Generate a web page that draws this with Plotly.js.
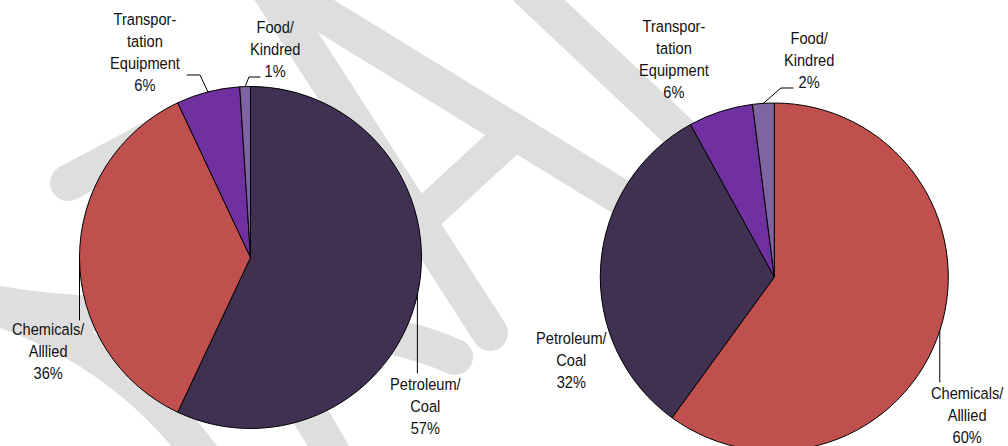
<!DOCTYPE html>
<html>
<head>
<meta charset="utf-8">
<script src="https://cdn.plot.ly/plotly-3.0.1.min.js"></script>
<style>
html, body { margin: 0; padding: 0; overflow: hidden; background: #fff; }
#chart { width: 1008px; height: 460px; }
.shapelayer path { stroke-linecap: round; stroke-linejoin: round; }
.annotation-text { transform-box: fill-box; transform-origin: center; transform: scaleX(0.86); }
</style>
</head>
<body>
<div id="chart"></div>
<script>
// ---------- data ----------
const categoriesLeft = ["Petroleum/Coal", "Chemicals/Alllied", "Transportation Equipment", "Food/Kindred"];
const valuesLeft = [57, 36, 6, 1];
const categoriesRight = ["Chemicals/Alllied", "Petroleum/Coal", "Transportation Equipment", "Food/Kindred"];
const valuesRight = [60, 32, 6, 2];
const labelLines = {
  "Petroleum/Coal": "Petroleum/<br>Coal",
  "Chemicals/Alllied": "Chemicals/<br>Alllied",
  "Transportation Equipment": "Transpor-<br>tation<br>Equipment",
  "Food/Kindred": "Food/<br>Kindred"
};
const categoryColors = {
  "Petroleum/Coal": "#403152",
  "Chemicals/Alllied": "#C0504D",
  "Transportation Equipment": "#7030A0",
  "Food/Kindred": "#8064A2"
};

// ---------- layout geometry (pixels) ----------
const W = 1008, H = 460;
const pies = [
  { cats: categoriesLeft, vals: valuesLeft, cx: 250.5, cy: 257.5, r: 171,
    labels: {
      "Petroleum/Coal": { x: 425, y: 406, leader: [[null, 373]] },
      "Chemicals/Alllied": { x: 48.5, y: 351, leader: [[null, 320]] },
      "Transportation Equipment": { x: 145, y: 52, leader: [[200, 75], [187, 75]] },
      "Food/Kindred": { x: 275, y: 49.5, leader: [[249, 77], [260, 77]] }
    } },
  { cats: categoriesRight, vals: valuesRight, cx: 774.3, cy: 277, r: 174,
    labels: {
      "Chemicals/Alllied": { x: 967.5, y: 415, leader: [[null, 382]] },
      "Petroleum/Coal": { x: 571.5, y: 359.5, leader: null },
      "Transportation Equipment": { x: 673.5, y: 59, leader: null },
      "Food/Kindred": { x: 808.5, y: 60, leader: [[781, 88], [793, 88]] }
    } }
];

const px = x => x / W;
const py = y => 1 - y / H;
const FONT = "'Liberation Sans', Arial, sans-serif";

const traces = [];
const annotations = [];
const shapes = [];

// ---------- watermark (decorative background strokes) ----------
function polyPath(pts) {
  return pts.map((p, i) => (i ? "L" : "M") + px(p[0]).toFixed(5) + "," + py(p[1]).toFixed(5)).join(" ");
}
function arcPts(cx, cy, r, a0, a1, n) {
  const out = [];
  for (let i = 0; i <= n; i++) {
    const a = (a0 + (a1 - a0) * i / n) * Math.PI / 180;
    out.push([cx + r * Math.cos(a), cy - r * Math.sin(a)]);
  }
  return out;
}
const wmStyle = { color: "#dedede", width: 36 };
const wmPaths = [
  polyPath([[68, 183], [190, 118]]),
  polyPath([[263, -20], [490, 333]]),
  polyPath([[280, -12], [720, 258]]),
  polyPath([[528, -10], [740, 190]]),
  polyPath([[515, 132], [425, 215]]),
  polyPath(arcPts(-130, 700, 412, 76, 32, 30)),
  polyPath(arcPts(-130, 700, 524, 46, 24, 20)),
  "M" + px(-10) + "," + py(302) + " C" + px(120) + "," + py(330) + " " + px(330) + "," + py(300) + " " + px(455) + "," + py(357)
];
wmPaths.forEach(p => shapes.push({ type: "path", xref: "paper", yref: "paper", path: p, layer: "below", line: wmStyle }));

// ---------- pies, labels, leaders ----------
pies.forEach(pie => {
  const total = pie.vals.reduce((a, b) => a + b, 0);
  traces.push({
    type: "pie",
    labels: pie.cats,
    values: pie.vals,
    sort: false,
    direction: "clockwise",
    rotation: 0,
    textinfo: "none",
    hoverinfo: "label+percent",
    marker: { colors: pie.cats.map(c => categoryColors[c]), line: { color: "#000", width: 1 } },
    domain: { x: [px(pie.cx - pie.r), px(pie.cx + pie.r)], y: [py(pie.cy + pie.r), py(pie.cy - pie.r)] }
  });
  let cum = 0;
  pie.cats.forEach((c, i) => {
    const v = pie.vals[i];
    const mid = (cum + v / 2) / total * 2 * Math.PI;
    cum += v;
    const ex = pie.cx + pie.r * Math.sin(mid);
    const ey = pie.cy - pie.r * Math.cos(mid);
    const lab = pie.labels[c];
    annotations.push({
      xref: "paper", yref: "paper", x: px(lab.x), y: py(lab.y),
      xanchor: "center", yanchor: "middle", align: "center", showarrow: false,
      text: labelLines[c] + "<br>" + Math.round(v / total * 100) + "%",
      font: { family: FONT, size: 17, color: "#111" }
    });
    if (lab.leader) {
      const pts = [[ex, ey]].concat(lab.leader.map(p => [p[0] === null ? ex : p[0], p[1]]));
      shapes.push({ type: "path", xref: "paper", yref: "paper", path: polyPath(pts), layer: "above",
        line: { color: "#000", width: 1 } });
    }
  });
});

Plotly.newPlot("chart", traces, {
  width: W, height: H,
  margin: { l: 0, r: 0, t: 0, b: 0 },
  showlegend: false,
  paper_bgcolor: "#fff",
  annotations: annotations,
  shapes: shapes
}, { displayModeBar: false, staticPlot: true });
</script>
</body>
</html>
